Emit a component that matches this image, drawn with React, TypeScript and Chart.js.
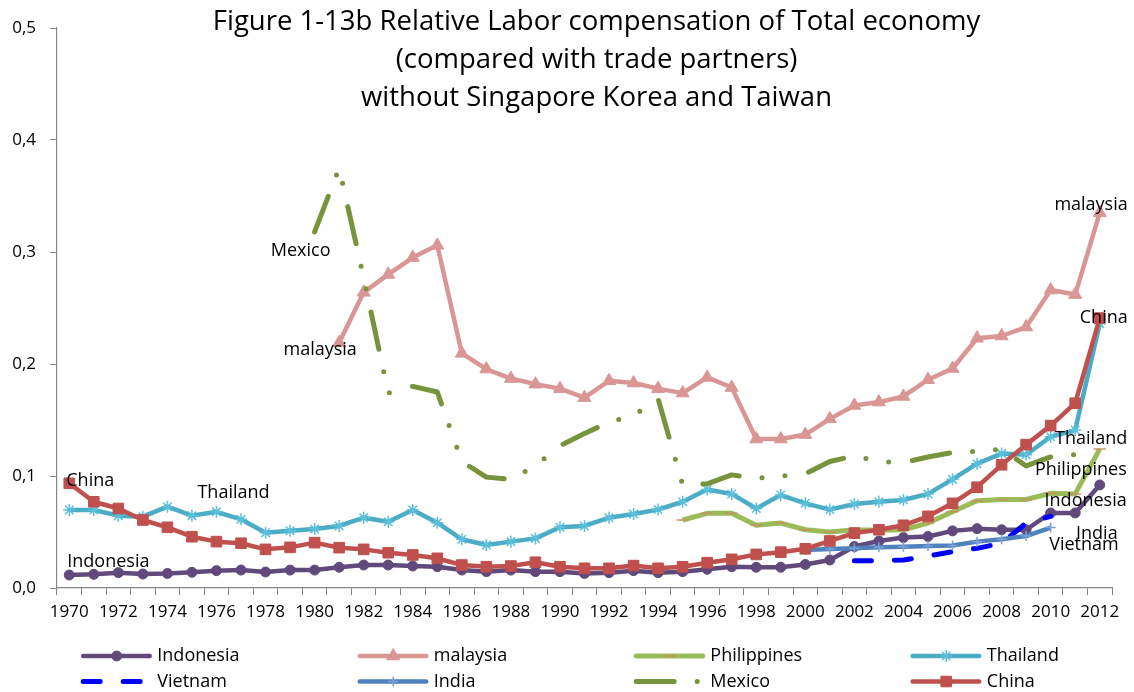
import React, { useEffect, useRef } from 'react';
import { Chart, registerables } from 'chart.js';

Chart.register(...registerables);

const FONT = '"Open Sans", "Noto Sans", "DejaVu Sans", sans-serif';

const years = [
  '1970', '1971', '1972', '1973', '1974', '1975', '1976', '1977', '1978', '1979',
  '1980', '1981', '1982', '1983', '1984', '1985', '1986', '1987', '1988', '1989',
  '1990', '1991', '1992', '1993', '1994', '1995', '1996', '1997', '1998', '1999',
  '2000', '2001', '2002', '2003', '2004', '2005', '2006', '2007', '2008', '2009',
  '2010', '2011', '2012',
];

const titleLines = [
  'Figure 1-13b Relative Labor compensation of Total economy',
  '(compared with trade partners)',
  'without Singapore Korea and Taiwan',
];

const seriesNames = ['Indonesia', 'malaysia', 'Philippines', 'Thailand', 'Vietnam', 'India', 'Mexico', 'China'];

// Indonesia 1970-2012
const indonesiaStart = 1970;
const indonesia = [
  0.0116, 0.0122, 0.0137, 0.0125, 0.013, 0.014, 0.0155, 0.016, 0.0143, 0.016,
  0.016, 0.0185, 0.0205, 0.0205, 0.0196, 0.019, 0.016, 0.0146, 0.016, 0.0146,
  0.0146, 0.013, 0.0137, 0.0155, 0.0137, 0.0146, 0.0167, 0.019, 0.0185, 0.0185,
  0.021, 0.025, 0.037, 0.042, 0.045, 0.046, 0.051, 0.053, 0.052, 0.052,
  0.067, 0.067, 0.092,
];

// malaysia 1981-2012
const malaysiaStart = 1981;
const malaysia = [
  0.219, 0.264, 0.28, 0.295, 0.306, 0.2095, 0.1955, 0.187, 0.182, 0.178,
  0.17, 0.185, 0.183, 0.178, 0.174, 0.188, 0.179, 0.133, 0.133, 0.137,
  0.151, 0.163, 0.166, 0.171, 0.186, 0.196, 0.223, 0.225, 0.233, 0.266,
  0.262, 0.335,
];

// Philippines 1995-2012
const philippinesStart = 1995;
const philippines = [
  0.0607, 0.0667, 0.0667, 0.056, 0.058, 0.052, 0.05, 0.052, 0.0515, 0.052,
  0.058, 0.068, 0.078, 0.079, 0.079, 0.0845, 0.084, 0.124,
];

// Thailand 1970-2012
const thailandStart = 1970;
const thailand = [
  0.0696, 0.0696, 0.0646, 0.0637, 0.0726, 0.0646, 0.068, 0.0613, 0.0494, 0.0512,
  0.0527, 0.0554, 0.0628, 0.0592, 0.0696, 0.0583, 0.0435, 0.0384, 0.0414, 0.0443,
  0.0542, 0.0554, 0.0628, 0.066, 0.07, 0.077, 0.088, 0.084, 0.071, 0.083,
  0.0756, 0.07, 0.075, 0.077, 0.0786, 0.084, 0.097, 0.111, 0.12, 0.119,
  0.135, 0.141, 0.236,
];

// Vietnam 2002-2010
const vietnamStart = 2002;
const vietnam = [0.0244, 0.0244, 0.025, 0.0286, 0.0324, 0.0354, 0.04, 0.058, 0.064];

// India 2000-2010
const indiaStart = 2000;
const india = [0.034, 0.0348, 0.0354, 0.0363, 0.0369, 0.0375, 0.038, 0.0414, 0.0435, 0.0464, 0.054];

// Mexico 1980-2011
const mexicoStart = 1980;
const mexico = [
  0.318, 0.375, 0.277, 0.174, 0.18, 0.175, 0.113, 0.099, 0.097, 0.109,
  0.127, 0.138, 0.148, 0.154, 0.169, 0.092, 0.093, 0.101, 0.098, 0.1,
  0.102, 0.113, 0.118, 0.113, 0.112, 0.117, 0.121, 0.122, 0.124, 0.109,
  0.117, 0.119,
];

// China 1970-2012
const chinaStart = 1970;
const china = [
  0.0935, 0.077, 0.071, 0.0607, 0.0542, 0.0458, 0.0414, 0.04, 0.0345, 0.0363,
  0.0405, 0.036, 0.0345, 0.0315, 0.0295, 0.0265, 0.0205, 0.019, 0.0196, 0.023,
  0.019, 0.0176, 0.0176, 0.02, 0.0176, 0.019, 0.0226, 0.0256, 0.03, 0.032,
  0.035, 0.042, 0.049, 0.052, 0.056, 0.064, 0.0756, 0.09, 0.11, 0.128,
  0.145, 0.165, 0.241,
];

const seriesStarts = [indonesiaStart, malaysiaStart, philippinesStart, thailandStart, vietnamStart, indiaStart, mexicoStart, chinaStart];
const seriesValues = [indonesia, malaysia, philippines, thailand, vietnam, india, mexico, china];

type Style = {
  color: string;
  width: number;
  dash: number[];
  marker: string | false;
  radius: number;
  markerFill: string;
  markerStroke: string;
  markerWidth: number;
};

const styles: Style[] = [
  { color: '#604A7B', width: 4.5, dash: [], marker: 'circle', radius: 5, markerFill: '#604A7B', markerStroke: '#604A7B', markerWidth: 1 },
  { color: '#D99694', width: 4.5, dash: [], marker: 'triangle', radius: 7.5, markerFill: '#D99694', markerStroke: '#D99694', markerWidth: 1 },
  { color: '#9BBB59', width: 5, dash: [], marker: 'line', radius: 6, markerFill: '#C4925F', markerStroke: '#C4925F', markerWidth: 1.5 },
  { color: '#4BACC6', width: 4.5, dash: [], marker: 'star', radius: 6, markerFill: '#5CC0DC', markerStroke: '#5CC0DC', markerWidth: 1.5 },
  { color: '#0000FF', width: 5, dash: [17, 23], marker: false, radius: 0, markerFill: '#0000FF', markerStroke: '#0000FF', markerWidth: 1 },
  { color: '#4F81BD', width: 4.5, dash: [], marker: 'cross', radius: 5, markerFill: '#7BA3D6', markerStroke: '#7BA3D6', markerWidth: 1.5 },
  { color: '#77933C', width: 5, dash: [38, 23, 0, 23, 0, 24], marker: false, radius: 0, markerFill: '#77933C', markerStroke: '#77933C', markerWidth: 1 },
  { color: '#C0504D', width: 4.5, dash: [], marker: 'rect', radius: 7.5, markerFill: '#C0504D', markerStroke: '#C0504D', markerWidth: 1 },
];

// in-chart data labels: [text, series index, year, dx, dy, align]
const dataLabels: [string, number, number, number, number, CanvasTextAlign][] = [
  ['China', 7, 1970, -3, -2, 'left'],
  ['Indonesia', 0, 1970, -2, -13, 'left'],
  ['Thailand', 3, 1976, 17, -19, 'center'],
  ['Mexico', 6, 1980, -14, 19, 'center'],
  ['malaysia', 1, 1981, -19, 7, 'center'],
  ['malaysia', 1, 2012, 28, -8, 'right'],
  ['China', 7, 2012, 28, 0, 'right'],
  ['Thailand', 3, 2011, 52, 9, 'right'],
  ['Philippines', 2, 2012, 27, 21, 'right'],
  ['Indonesia', 0, 2012, 27, 16, 'right'],
  ['India', 5, 2010, 67, 6, 'right'],
  ['Vietnam', 4, 2010, 68, 29, 'right'],
];

function drawMarker(ctx: CanvasRenderingContext2D, st: Style, x: number, y: number) {
  if (!st.marker) return;
  const r = st.radius;
  ctx.save();
  ctx.setLineDash([]);
  ctx.fillStyle = st.markerFill;
  ctx.strokeStyle = st.markerStroke;
  ctx.lineWidth = st.markerWidth;
  ctx.beginPath();
  switch (st.marker) {
    case 'circle':
      ctx.arc(x, y, r, 0, Math.PI * 2);
      ctx.fill();
      ctx.stroke();
      break;
    case 'triangle': {
      const a = Math.PI * 2 / 3;
      ctx.moveTo(x, y - r);
      ctx.lineTo(x + Math.sin(a) * r, y - Math.cos(a) * r);
      ctx.lineTo(x + Math.sin(2 * a) * r, y - Math.cos(2 * a) * r);
      ctx.closePath();
      ctx.fill();
      ctx.stroke();
      break;
    }
    case 'rect': {
      const s = r * Math.SQRT1_2;
      ctx.rect(x - s, y - s, 2 * s, 2 * s);
      ctx.fill();
      ctx.stroke();
      break;
    }
    case 'star': {
      const d = r * Math.SQRT1_2;
      ctx.moveTo(x - r, y); ctx.lineTo(x + r, y);
      ctx.moveTo(x, y - r); ctx.lineTo(x, y + r);
      ctx.moveTo(x - d, y - d); ctx.lineTo(x + d, y + d);
      ctx.moveTo(x - d, y + d); ctx.lineTo(x + d, y - d);
      ctx.stroke();
      break;
    }
    case 'line':
      ctx.moveTo(x - r, y); ctx.lineTo(x + r, y);
      ctx.stroke();
      break;
    case 'cross':
      ctx.moveTo(x - r, y); ctx.lineTo(x + r, y);
      ctx.moveTo(x, y - r); ctx.lineTo(x, y + r);
      ctx.stroke();
      break;
  }
  ctx.restore();
}

const overlayPlugin = {
  id: 'overlay',
  afterDatasetsDraw(chart: any) {
    const ctx: CanvasRenderingContext2D = chart.ctx;
    ctx.save();
    // data labels
    ctx.fillStyle = '#000';
    ctx.font = `18px ${FONT}`;
    ctx.textBaseline = 'middle';
    dataLabels.forEach(([text, si, yr, dx, dy, align]) => {
      const meta = chart.getDatasetMeta(si);
      const pt = meta.data[yr - seriesStarts[si]];
      if (!pt) return;
      ctx.textAlign = align;
      ctx.fillText(text, pt.x + dx, pt.y + dy);
    });
    // title
    ctx.font = `27.5px ${FONT}`;
    ctx.textAlign = 'center';
    const cx = (chart.chartArea.left + chart.chartArea.right) / 2 + 12;
    titleLines.forEach((line, i) => {
      ctx.fillText(line, cx, 22 + i * 38);
    });
    // legend (4 columns x 2 rows)
    ctx.font = `18px ${FONT}`;
    ctx.textAlign = 'left';
    seriesNames.forEach((name, i) => {
      const st = styles[i];
      const col = i % 4;
      const row = Math.floor(i / 4);
      const x0 = 80.7 + col * 276.5;
      const y = 656 + row * 25.5;
      ctx.save();
      ctx.strokeStyle = st.color;
      ctx.lineWidth = st.width;
      ctx.lineCap = 'round';
      ctx.setLineDash(st.dash);
      ctx.beginPath();
      ctx.moveTo(x0 + 2.5, y);
      ctx.lineTo(x0 + 69, y);
      ctx.stroke();
      ctx.restore();
      drawMarker(ctx, st, x0 + 36, y);
      ctx.fillStyle = '#000';
      ctx.fillText(name, x0 + 76.6, y);
    });
    ctx.restore();
  },
};

export default function App() {
  const ref = useRef<HTMLCanvasElement | null>(null);
  useEffect(() => {
    if (!ref.current) return;
    const datasets = seriesNames.map((name, i) => {
      const st = styles[i];
      const start = seriesStarts[i];
      return {
        label: name,
        data: seriesValues[i].map((v, j) => ({ x: String(start + j), y: v })),
        borderColor: st.color,
        backgroundColor: st.color,
        borderWidth: st.width,
        borderDash: st.dash,
        borderCapStyle: st.dash.length ? 'round' : 'butt',
        borderJoinStyle: 'round',
        tension: 0,
        fill: false,
        pointStyle: st.marker || 'circle',
        pointRadius: st.marker ? st.radius : 0,
        pointBackgroundColor: st.markerFill,
        pointBorderColor: st.markerStroke,
        pointBorderWidth: st.markerWidth,
        pointHoverRadius: st.marker ? st.radius : 0,
        order: seriesNames.length - 1 - i,
      };
    });
    const chart = new Chart(ref.current, {
      type: 'line',
      data: { labels: years, datasets: datasets as any },
      options: {
        animation: false,
        responsive: false,
        events: [],
        layout: { padding: { top: 28, right: 22, left: 0, bottom: 0 } },
        plugins: {
          legend: { display: false },
          title: { display: false },
          tooltip: { enabled: false },
        },
        scales: {
          x: {
            type: 'category',
            offset: true,
            grid: { offset: true, drawOnChartArea: false, drawTicks: true, tickLength: 7, color: '#868686', lineWidth: 1 },
            border: { color: '#868686', width: 1.2 },
            ticks: {
              autoSkip: false,
              maxRotation: 0,
              minRotation: 0,
              padding: 7,
              color: '#000',
              font: { family: FONT, size: 17 },
              callback: (_v: any, i: number) => (i % 2 === 0 ? years[i] : ''),
            },
            afterFit: (s: any) => { s.height = 104; },
          },
          y: {
            min: 0,
            max: 0.5,
            grid: { drawOnChartArea: false, drawTicks: true, tickLength: 7, color: '#868686', lineWidth: 1 },
            border: { color: '#868686', width: 1.2 },
            ticks: {
              stepSize: 0.1,
              padding: 14,
              color: '#000',
              font: { family: FONT, size: 17 },
              callback: (v: any) => Number(v).toFixed(1).replace('.', ','),
            },
            afterFit: (s: any) => { s.width = 57; },
          },
        },
      } as any,
      plugins: [overlayPlugin],
    });
    return () => chart.destroy();
  }, []);
  return (
    <div style={{ position: 'absolute', left: 0, top: 0, width: 1134, height: 692, background: '#fff' }}>
      <canvas ref={ref} width={1134} height={692} style={{ display: 'block' }} />
    </div>
  );
}
